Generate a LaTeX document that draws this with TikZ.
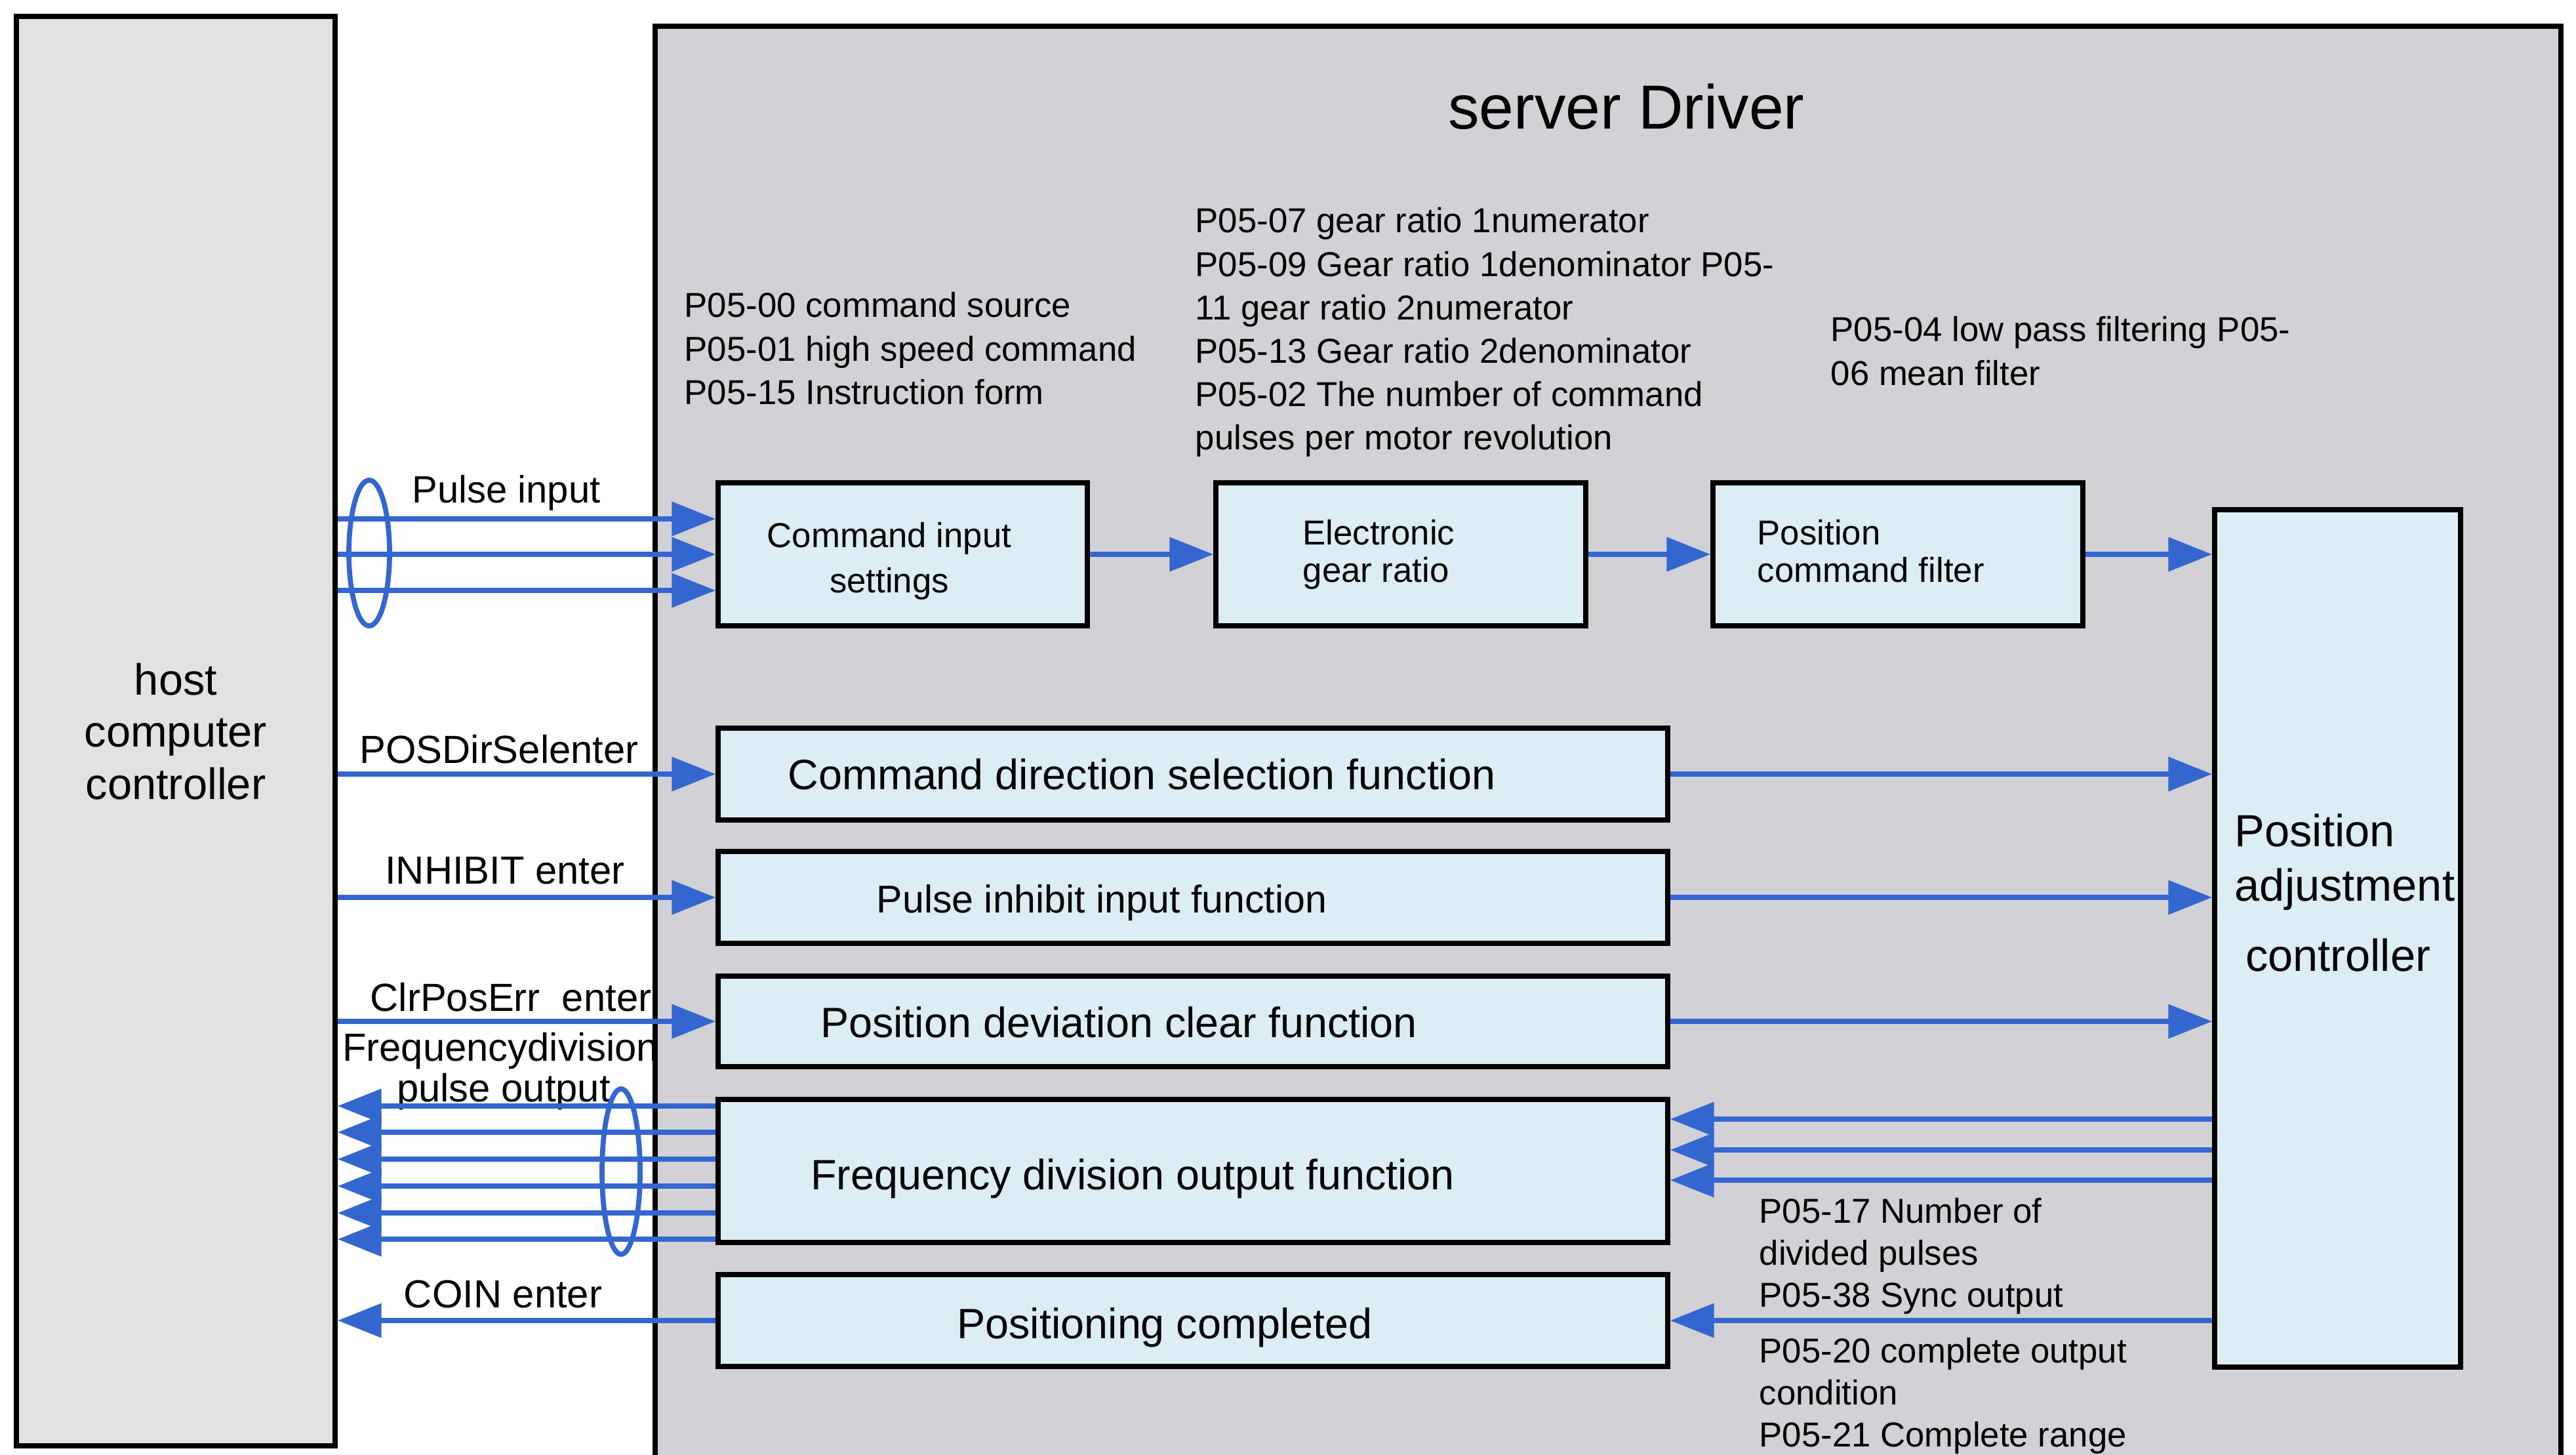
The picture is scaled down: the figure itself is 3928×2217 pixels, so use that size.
\documentclass[tikz,border=0pt]{standalone}
\usepackage{fontspec}
\setmainfont{Liberation Sans}
\usetikzlibrary{arrows.meta,shapes.geometric,fit}
\definecolor{hostgray}{RGB}{226,226,226}
\definecolor{drvgray}{RGB}{210,209,214}
\definecolor{boxcyan}{RGB}{220,237,243}
\definecolor{sigblue}{RGB}{52,102,208}
\tikzset{
  hostbox/.style={draw=black,line width=2.2pt,fill=hostgray,inner sep=0pt},
  drvbox/.style={draw=black,line width=2.2pt,fill=drvgray,inner sep=0pt},
  fbox/.style={draw=black,line width=2.2pt,fill=boxcyan,inner sep=0pt},
  sig/.style={draw=sigblue,line width=2.1pt,-{Triangle[length=19pt,width=14.5pt]}},
  ring/.style={ellipse,draw=sigblue,line width=2.2pt,inner sep=0pt},
  ptxt/.style={inner sep=0pt,anchor=north west,align=left,font=\fontsize{15}{18.8}\selectfont},
  stxt/.style={inner sep=0pt,font=\fontsize{15}{16}\selectfont},
  ltxt/.style={inner sep=0pt,anchor=base,font=\fontsize{18.4}{22}\selectfont},
  sigtxt/.style={inner sep=0pt,anchor=base,font=\fontsize{17}{20}\selectfont},
  atxt/.style={inner sep=0pt,font=\fontsize{19.5}{23}\selectfont}
}
\begin{document}
\begin{tikzpicture}[x=0.01cm,y=-0.01cm]
\useasboundingbox (0,0) rectangle (3928,2217);
\fill[white] (0,0) rectangle (3928,2217);

% outer boxes
\node[drvbox,fit={(999,40) (3905,2260)}] (drv) {};
\node[hostbox,fit={(25,25) (511,2204)}] (host) {};
\node[inner sep=0pt,align=center,font=\fontsize{19}{22.7}\selectfont] (hosttxt) at (268,1115) {host\\computer\\controller};
\node[inner sep=0pt,font=\fontsize{27}{32}\selectfont] (title) at (2480,163) {server Driver};

% parameter texts
\node[ptxt] (par1) at (1043,445) {P05-00 command source\\P05-01 high speed command\\P05-15 Instruction form};
\node[ptxt] (par2) at (1822,316) {P05-07 gear ratio 1numerator\\P05-09 Gear ratio 1denominator P05-\\11 gear ratio 2numerator\\P05-13 Gear ratio 2denominator\\P05-02 The number of command\\pulses per motor revolution};
\node[ptxt] (par3) at (2791,482) {P05-04 low pass filtering P05-\\06 mean filter};
\node[ptxt,font=\fontsize{15}{18.2}\selectfont] (par4) at (2682,1826) {P05-17 Number of\\divided pulses\\P05-38 Sync output};
\node[ptxt,font=\fontsize{15}{18.2}\selectfont] (par5) at (2682,2039) {P05-20 complete output\\condition\\P05-21 Complete range};

% top row boxes
\node[fbox,fit={(1095,736) (1658,954)}] (cis) {};
\node[fbox,fit={(1854,736) (2418,954)}] (egr) {};
\node[fbox,fit={(2612,736) (3176,954)}] (pcf) {};
\node[fbox,fit={(3377,777) (3752,2084)}] (posadj) {};
\node[stxt,anchor=north,align=center,font=\fontsize{15}{19.4}\selectfont] (cistxt) at (1356,796) {Command input\\settings};
\node[stxt,anchor=north west,align=left] (egrtxt) at (1986,792) {Electronic\\gear ratio};
\node[stxt,anchor=north west,align=left] (pcftxt) at (2679,792) {Position\\command filter};
\node[atxt,anchor=base west] (pa1) at (3407,1290) {Position};
\node[atxt,anchor=base west] (pa2) at (3407,1373) {adjustment};
\node[atxt,anchor=base] (pa3) at (3565,1480) {controller};

% long boxes
\node[fbox,fit={(1095,1110) (2543,1250)}] (cds) {};
\node[fbox,fit={(1095,1298) (2543,1438)}] (pif) {};
\node[fbox,fit={(1095,1488) (2543,1626)}] (pdc) {};
\node[fbox,fit={(1095,1676) (2543,1894)}] (fdo) {};
\node[fbox,fit={(1095,1943) (2543,2083)}] (pc) {};
\node[ltxt] (cdstxt) at (1741,1203) {Command direction selection function};
\node[ltxt,font=\fontsize{16.8}{20}\selectfont] (piftxt) at (1680,1391) {Pulse inhibit input function};
\node[ltxt] (pdctxt) at (1706,1581) {Position deviation clear function};
\node[ltxt] (fdotxt) at (1727,1813) {Frequency division output function};
\node[ltxt] (pctxt) at (1776,2040) {Positioning completed};

% signal labels
\node[sigtxt,font=\fontsize{16.5}{20}\selectfont] (lpi) at (772,766) {Pulse input};
\node[sigtxt] (lpos) at (761,1163) {POSDirSelenter};
\node[sigtxt] (linh) at (770,1347) {INHIBIT enter};
\node[sigtxt] (lclr) at (779,1541) {ClrPosErr~~enter};
\node[sigtxt] (lfd1) at (763,1617) {Frequencydivision};
\node[sigtxt] (lfd2) at (768,1679) {pulse output};
\node[sigtxt] (lcoin) at (767,1993) {COIN enter};

% pulse input arrows
\coordinate (pi1) at ([yshift=0.54cm]cis.west);
\coordinate (pi2) at (cis.west);
\coordinate (pi3) at ([yshift=-0.55cm]cis.west);
\draw[sig] (pi1 -| host.east) -- (pi1);
\draw[sig] (pi2 -| host.east) -- (pi2);
\draw[sig] (pi3 -| host.east) -- (pi3);
\node[ring,minimum width=0.62cm,minimum height=2.22cm] (ring1) at (563,843) {};

% top chain
\draw[sig] (cis.east) -- (egr.west);
\draw[sig] (egr.east) -- (pcf.west);
\draw[sig] (pcf.east) -- (pcf.east -| posadj.west);

% single inputs
\draw[sig] (cds.west -| host.east) -- (cds.west);
\draw[sig] (pif.west -| host.east) -- (pif.west);
\draw[sig] (pdc.west -| host.east) -- (pdc.west);
\draw[sig] (cds.east) -- (cds.east -| posadj.west);
\draw[sig] (pif.east) -- (pif.east -| posadj.west);
\draw[sig] (pdc.east) -- (pdc.east -| posadj.west);

% frequency division outputs
\foreach \dy/\nm in {0.99/f1,0.59/f2,0.18/f3,-0.23/f4,-0.64/f5,-1.04/f6}{
  \coordinate (\nm) at ([yshift=\dy cm]fdo.west);
  \draw[sig] (\nm) -- (\nm -| host.east);
}
\node[ring,minimum width=0.58cm,minimum height=2.52cm] (ring2) at (947,1786) {};
\foreach \dy/\nm in {0.79/g1,0.32/g2,-0.14/g3}{
  \coordinate (\nm) at ([yshift=\dy cm]fdo.east);
  \draw[sig] (\nm -| posadj.west) -- (\nm);
}

% positioning completed
\draw[sig] (pc.east -| posadj.west) -- (pc.east);
\draw[sig] (pc.west) -- (pc.west -| host.east);
\end{tikzpicture}
\end{document}
